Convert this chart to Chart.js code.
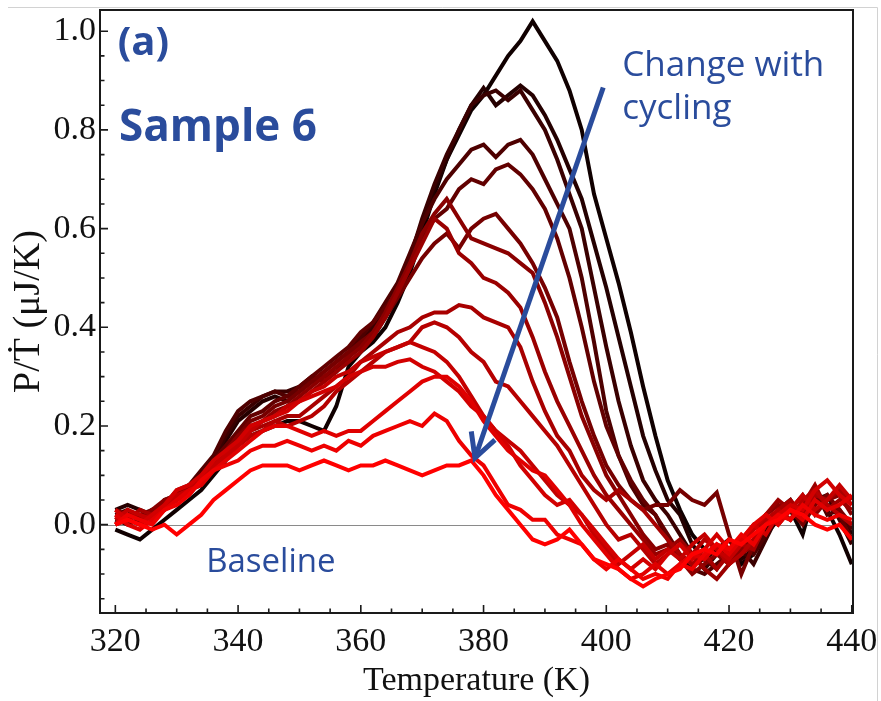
<!DOCTYPE html>
<html>
<head>
<meta charset="utf-8">
<script src="https://cdn.jsdelivr.net/npm/chart.js@4.4.0/dist/chart.umd.min.js"></script>
<style>
  html, body { margin: 0; padding: 0; background: #fff; }
  #wrap { width: 881px; height: 701px; }
</style>
</head>
<body>
<div id="wrap"><canvas id="chart" width="881" height="701"></canvas></div>
<script>
// temperature grid (K)
const temps = [320,322,324,326,328,330,332,334,336,338,
  340,342,344,346,348,350,352,354,356,358,
  360,362,364,366,368,370,372,374,376,378,
  380,382,384,386,388,390,392,394,396,398,
  400,402,404,406,408,410,412,414,416,418,
  420,422,424,426,428,430,432,434,436,438,440];

// P/Tdot (uJ/K), one array per cycle, first = black, last = bright red
const cycle1 = [-0.01,-0.02,-0.03,-0.01,0.01,0.03,0.05,0.07,0.10,0.13,
  0.16,0.18,0.19,0.20,0.21,0.21,0.20,0.19,0.24,0.32,
  0.35,0.37,0.40,0.45,0.51,0.59,0.67,0.74,0.79,0.84,
  0.87,0.91,0.95,0.98,1.02,0.98,0.94,0.88,0.80,0.67,
  0.58,0.49,0.39,0.28,0.18,0.09,0.03,-0.02,-0.05,-0.06,
  -0.05,-0.08,-0.06,-0.02,0.01,0.03,-0.02,0.07,0.03,-0.02,-0.08];
const cycle2 = [0.03,0.04,0.03,0.02,0.04,0.05,0.07,0.09,0.12,0.17,
  0.21,0.23,0.25,0.26,0.25,0.27,0.29,0.30,0.31,0.34,
  0.36,0.38,0.42,0.47,0.53,0.61,0.68,0.74,0.80,0.85,
  0.885,0.85,0.87,0.89,0.87,0.83,0.78,0.72,0.66,0.57,
  0.48,0.38,0.28,0.18,0.11,0.05,0.02,-0.04,-0.07,-0.05,
  -0.03,-0.07,-0.05,-0.01,0.03,0.05,0.01,0.06,0.04,0.03,-0.02];
const cycle3 = [0.01,0.00,0.01,0.03,0.04,0.06,0.08,0.10,0.13,0.18,
  0.22,0.24,0.26,0.27,0.27,0.28,0.30,0.29,0.31,0.34,
  0.37,0.40,0.43,0.48,0.54,0.62,0.69,0.75,0.80,0.85,
  0.87,0.88,0.86,0.88,0.84,0.80,0.74,0.67,0.60,0.48,
  0.36,0.25,0.16,0.09,0.05,0.02,-0.02,-0.06,-0.09,-0.06,
  -0.03,-0.05,-0.08,-0.03,0.02,0.04,0.02,0.05,0.06,0.01,-0.04];
const cycle4 = [0.02,0.03,0.01,0.02,0.05,0.06,0.08,0.11,0.14,0.19,
  0.23,0.25,0.26,0.27,0.26,0.27,0.29,0.31,0.33,0.35,
  0.38,0.41,0.45,0.49,0.55,0.61,0.66,0.70,0.73,0.76,
  0.77,0.745,0.77,0.78,0.75,0.70,0.65,0.60,0.50,0.37,
  0.23,0.14,0.08,0.04,0.02,-0.03,-0.07,-0.09,-0.10,-0.08,
  -0.06,-0.04,-0.06,-0.02,0.03,0.01,0.04,0.07,0.02,0.03,-0.01];
const cycle5 = [0.00,0.01,0.02,0.03,0.04,0.06,0.08,0.10,0.13,0.16,
  0.19,0.22,0.23,0.25,0.26,0.28,0.30,0.32,0.34,0.36,
  0.39,0.41,0.44,0.47,0.52,0.58,0.62,0.64,0.68,0.70,
  0.69,0.72,0.73,0.71,0.68,0.64,0.58,0.50,0.40,0.29,
  0.20,0.14,0.09,0.05,0.02,-0.02,-0.06,-0.08,-0.07,-0.09,
  -0.05,-0.03,-0.05,0.00,0.02,0.04,0.03,0.06,0.04,0.02,-0.03];
const cycle6 = [0.02,0.01,0.00,0.02,0.03,0.05,0.07,0.09,0.12,0.15,
  0.18,0.21,0.22,0.24,0.25,0.27,0.29,0.31,0.33,0.35,
  0.37,0.39,0.42,0.46,0.50,0.54,0.57,0.59,0.56,0.60,
  0.62,0.63,0.60,0.57,0.53,0.48,0.42,0.33,0.25,0.18,
  0.12,0.08,0.05,0.03,0.04,0.04,0.07,0.05,0.04,0.065,
  -0.02,-0.10,-0.04,0.02,0.04,0.03,0.00,0.04,0.06,0.03,0.00];
const cycle7 = [0.03,0.02,0.01,0.03,0.05,0.06,0.08,0.10,0.12,0.15,
  0.18,0.20,0.21,0.23,0.24,0.26,0.28,0.30,0.32,0.34,
  0.36,0.39,0.43,0.48,0.53,0.59,0.63,0.66,0.62,0.58,
  0.57,0.56,0.55,0.53,0.51,0.45,0.38,0.30,0.22,0.16,
  0.10,0.06,0.02,-0.02,-0.05,-0.04,-0.07,-0.10,-0.08,-0.06,
  -0.08,-0.05,-0.03,0.02,0.04,0.03,0.06,0.02,0.05,0.06,0.02];
const cycle8 = [0.01,0.02,0.02,0.01,0.04,0.07,0.08,0.09,0.11,0.14,
  0.17,0.19,0.21,0.22,0.24,0.25,0.27,0.29,0.31,0.33,
  0.35,0.38,0.42,0.47,0.52,0.57,0.62,0.60,0.55,0.53,
  0.50,0.49,0.47,0.44,0.38,0.31,0.25,0.20,0.15,0.10,
  0.06,0.03,0.00,-0.03,-0.06,-0.05,-0.03,-0.06,-0.09,-0.11,
  -0.08,-0.06,-0.04,0.02,0.05,0.03,0.04,0.08,0.03,0.05,0.03];
const cycle9 = [0.02,0.01,0.03,0.02,0.03,0.05,0.07,0.08,0.11,0.14,
  0.17,0.19,0.20,0.21,0.22,0.22,0.24,0.26,0.28,0.30,
  0.33,0.35,0.37,0.39,0.40,0.42,0.43,0.43,0.445,0.44,
  0.42,0.41,0.40,0.36,0.29,0.23,0.18,0.15,0.10,0.07,
  0.05,0.07,0.05,0.03,0.00,-0.03,-0.06,-0.08,-0.06,-0.09,
  -0.06,-0.04,-0.05,0.00,0.03,0.05,0.02,0.06,0.05,0.07,0.04];
const cycle10 = [0.00,0.02,0.01,0.02,0.04,0.05,0.06,0.09,0.11,0.14,
  0.16,0.18,0.19,0.21,0.20,0.21,0.22,0.24,0.27,0.29,
  0.31,0.33,0.35,0.36,0.37,0.40,0.41,0.40,0.38,0.35,
  0.33,0.29,0.28,0.25,0.22,0.19,0.16,0.12,0.08,0.04,
  0.00,-0.03,-0.02,-0.05,-0.08,-0.06,-0.04,-0.06,-0.03,-0.05,
  -0.08,-0.06,-0.03,0.01,0.03,0.01,0.05,0.07,0.04,0.02,0.00];
const cycle11 = [0.01,0.03,0.02,0.01,0.03,0.06,0.07,0.09,0.12,0.14,
  0.16,0.19,0.21,0.22,0.24,0.25,0.27,0.28,0.30,0.31,
  0.33,0.34,0.35,0.36,0.37,0.36,0.35,0.33,0.30,0.26,
  0.22,0.19,0.17,0.15,0.12,0.09,0.06,0.04,0.02,-0.02,
  -0.05,-0.08,-0.06,-0.04,-0.07,-0.05,-0.07,-0.04,-0.02,-0.05,
  -0.07,-0.04,-0.01,0.02,0.00,0.03,0.06,0.03,0.05,0.08,0.05];
const cycle12 = [0.03,0.01,0.00,0.02,0.04,0.07,0.08,0.10,0.13,0.15,
  0.17,0.20,0.21,0.22,0.23,0.25,0.26,0.27,0.28,0.30,
  0.31,0.32,0.32,0.33,0.335,0.32,0.31,0.29,0.27,0.24,
  0.22,0.19,0.16,0.12,0.09,0.06,0.04,0.05,0.02,-0.01,
  -0.04,-0.07,-0.09,-0.07,-0.09,-0.06,-0.04,-0.07,-0.05,-0.02,
  -0.05,-0.03,0.00,-0.02,0.02,0.04,0.03,0.07,0.09,0.06,0.04];
const cycle13 = [0.02,0.00,-0.01,0.01,0.03,0.05,0.07,0.08,0.11,0.13,
  0.15,0.17,0.19,0.20,0.20,0.19,0.18,0.19,0.18,0.19,
  0.19,0.21,0.23,0.25,0.27,0.29,0.30,0.30,0.28,0.25,
  0.21,0.18,0.15,0.13,0.11,0.10,0.07,0.04,0.00,-0.03,
  -0.06,-0.09,-0.11,-0.10,-0.08,-0.10,-0.08,-0.06,-0.07,-0.04,
  -0.06,-0.03,0.00,0.02,0.00,0.03,0.01,0.05,0.03,0.04,0.06];
const cycle14 = [0.00,0.02,0.01,0.00,0.03,0.04,0.06,0.09,0.11,0.12,
  0.13,0.15,0.16,0.16,0.17,0.16,0.15,0.16,0.15,0.17,
  0.16,0.18,0.19,0.20,0.21,0.20,0.225,0.21,0.17,0.14,
  0.12,0.08,0.04,0.03,0.01,0.01,-0.02,-0.03,-0.04,-0.07,
  -0.09,-0.07,-0.09,-0.11,-0.10,-0.11,-0.08,-0.09,-0.06,-0.04,
  -0.05,-0.02,-0.04,0.00,0.02,0.01,0.04,0.02,0.01,0.02,0.01];
const cycle15 = [0.00,0.01,0.00,-0.01,0.00,-0.02,0.00,0.02,0.05,0.07,
  0.09,0.11,0.12,0.12,0.12,0.11,0.12,0.13,0.12,0.11,
  0.12,0.12,0.13,0.12,0.11,0.10,0.11,0.12,0.12,0.13,
  0.10,0.06,0.03,0.00,-0.03,-0.04,-0.03,-0.01,-0.04,-0.07,
  -0.08,-0.09,-0.11,-0.125,-0.11,-0.10,-0.09,-0.06,-0.05,-0.06,
  -0.03,-0.04,-0.02,0.00,0.01,0.03,0.02,0.00,-0.01,0.00,-0.03];

const cycles = [cycle1, cycle2, cycle3, cycle4, cycle5, cycle6, cycle7, cycle8,
  cycle9, cycle10, cycle11, cycle12, cycle13, cycle14, cycle15];
const colors = ['#100000','#250000','#3a0000','#4e0000','#620000','#760000','#8a0000','#9a0000',
  '#a80000','#b60000','#c40000','#d20000','#e00000','#ee0000','#ff0000'];

const xTicks = [320, 340, 360, 380, 400, 420, 440];
const yTicks = [0.0, 0.2, 0.4, 0.6, 0.8, 1.0];

const blue = '#2a4c9c';
const serif = "'Liberation Serif', 'Times New Roman', serif";
const sans = "'Open Sans', 'Noto Sans', sans-serif";

// red cycles on top -> put them first
const datasets = cycles.map((vals, i) => ({
  label: 'Cycle ' + (i + 1),
  data: temps.map((t, j) => ({ x: t, y: vals[j] })),
  borderColor: colors[i],
  borderWidth: 4,
  pointRadius: 0,
  tension: 0,
  fill: false
})).reverse();

const decor = {
  id: 'decor',
  beforeDraw(chart) {
    const { ctx } = chart;
    ctx.save();
    ctx.strokeStyle = '#d2d2d2';
    ctx.lineWidth = 1;
    ctx.beginPath();
    ctx.moveTo(8, 7.5); ctx.lineTo(877.5, 7.5); ctx.lineTo(877.5, 701);
    ctx.stroke();
    ctx.restore();
  },
  beforeDatasetsDraw(chart) {
    const { ctx, chartArea: a, scales: { y } } = chart;
    const y0 = Math.round(y.getPixelForValue(0)) + 0.5;
    ctx.save();
    ctx.strokeStyle = '#8a8a8a';
    ctx.lineWidth = 1.2;
    ctx.beginPath(); ctx.moveTo(a.left, y0); ctx.lineTo(a.right, y0); ctx.stroke();
    ctx.restore();
  },
  afterDatasetsDraw(chart) {
    const { ctx, chartArea: a, scales: { x, y } } = chart;
    ctx.save();
    // frame
    ctx.strokeStyle = '#1a1a1a';
    ctx.lineWidth = 2;
    ctx.strokeRect(a.left, a.top, a.right - a.left, a.bottom - a.top);
    // inward ticks
    ctx.lineWidth = 1.6;
    ctx.beginPath();
    for (let v = 320; v <= 440; v += 5) {
      const px = x.getPixelForValue(v);
      const len = v % 20 === 0 ? 8 : 4.5;
      ctx.moveTo(px, a.bottom); ctx.lineTo(px, a.bottom - len);
    }
    for (let k = -3; k <= 20; k++) {
      const py = y.getPixelForValue(k * 0.05);
      const len = k % 4 === 0 ? 8 : 4.5;
      ctx.moveTo(a.left, py); ctx.lineTo(a.left + len, py);
    }
    ctx.stroke();

    // arrow "change with cycling"
    const x1 = x.getPixelForValue(399.5), y1 = y.getPixelForValue(0.886);
    const x2 = x.getPixelForValue(378.6), y2 = y.getPixelForValue(0.135);
    const ang = Math.atan2(y1 - y2, x1 - x2);
    ctx.strokeStyle = blue;
    ctx.lineWidth = 5;
    ctx.lineCap = 'butt';
    ctx.beginPath(); ctx.moveTo(x1, y1); ctx.lineTo(x2, y2); ctx.stroke();
    ctx.lineJoin = 'miter';
    ctx.beginPath();
    ctx.moveTo(x2 + 27 * Math.cos(ang - 0.47), y2 + 27 * Math.sin(ang - 0.47));
    ctx.lineTo(x2, y2);
    ctx.lineTo(x2 + 27 * Math.cos(ang + 0.5), y2 + 27 * Math.sin(ang + 0.5));
    ctx.stroke();

    // text labels
    ctx.fillStyle = blue;
    ctx.textBaseline = 'alphabetic';
    ctx.textAlign = 'left';
    ctx.font = 'bold 40px ' + sans;
    ctx.fillText('(a)', x.getPixelForValue(320.4), y.getPixelForValue(0.952));
    ctx.font = 'bold 44px ' + sans;
    ctx.fillText('Sample 6', x.getPixelForValue(320.6), y.getPixelForValue(0.778));
    ctx.font = '35px ' + sans;
    ctx.fillText('Change with', x.getPixelForValue(402.6), y.getPixelForValue(0.910));
    ctx.fillText('cycling', x.getPixelForValue(402.6), y.getPixelForValue(0.823));
    ctx.font = '33px ' + sans;
    ctx.fillText('Baseline', x.getPixelForValue(334.8), y.getPixelForValue(-0.096));
    ctx.restore();
  }
};

new Chart(document.getElementById('chart'), {
  type: 'line',
  data: { datasets: datasets },
  options: {
    responsive: false,
    animation: false,
    layout: { padding: { left: 0, right: 28, top: 10, bottom: 0 } },
    plugins: { legend: { display: false }, tooltip: { enabled: false } },
    scales: {
      x: {
        type: 'linear',
        min: 317.5,
        max: 440.2,
        grid: { display: false, drawTicks: false },
        border: { display: false },
        afterBuildTicks: s => { s.ticks = xTicks.map(v => ({ value: v })); },
        afterFit: s => { s.height = 88; s.paddingLeft = 0; s.paddingRight = 0; },
        ticks: {
          color: '#111',
          font: { family: serif, size: 34 },
          padding: 9,
          maxRotation: 0,
          autoSkip: false
        },
        title: {
          display: true,
          text: 'Temperature (K)',
          color: '#111',
          font: { family: serif, size: 34 },
          padding: { top: 0, bottom: 0 }
        }
      },
      y: {
        type: 'linear',
        min: -0.179,
        max: 1.043,
        grid: { display: false, drawTicks: false },
        border: { display: false },
        afterBuildTicks: s => { s.ticks = yTicks.map(v => ({ value: v })); },
        afterFit: s => { s.width = 100; s.paddingTop = 0; s.paddingBottom = 0; },
        ticks: {
          color: '#111',
          font: { family: serif, size: 34 },
          padding: 4,
          callback: v => v.toFixed(1)
        },
        title: {
          display: true,
          text: 'P/Ṫ (μJ/K)',
          color: '#111',
          font: { family: serif, size: 38 },
          padding: { top: 6, bottom: 0 }
        }
      }
    }
  },
  plugins: [decor]
});
</script>
</body>
</html>
